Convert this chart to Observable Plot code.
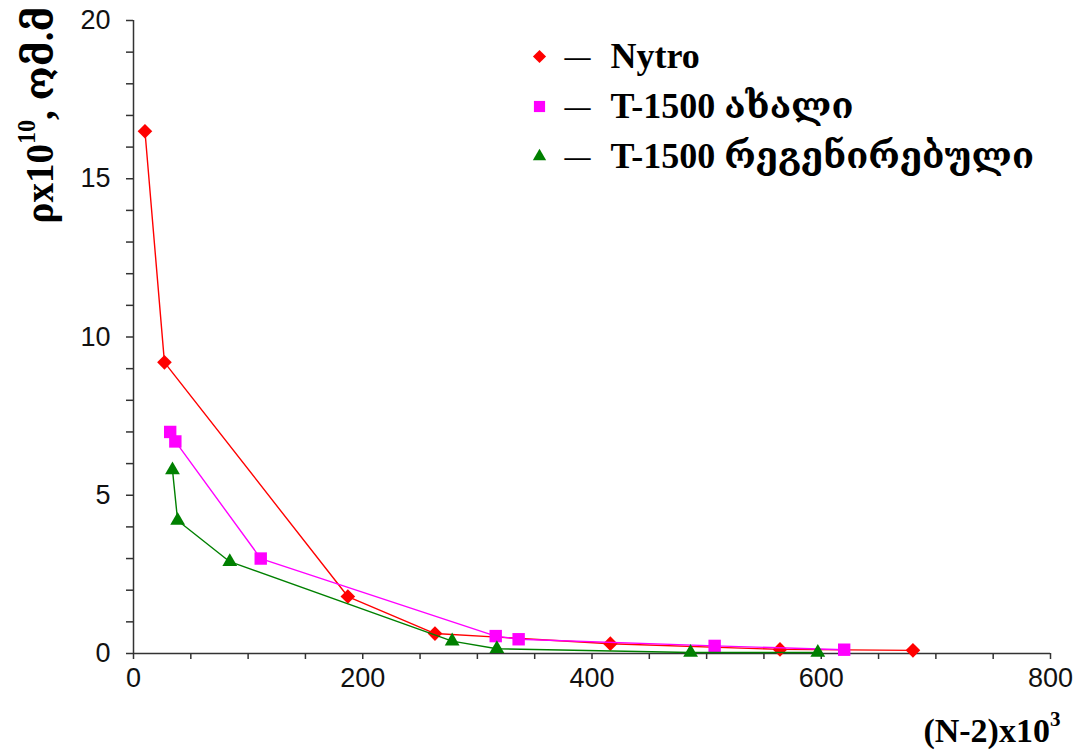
<!DOCTYPE html>
<html><head><meta charset="utf-8">
<script src="https://cdn.jsdelivr.net/npm/d3@7"></script>
<script src="https://cdn.jsdelivr.net/npm/@observablehq/plot@0.6"></script>
<style>body{margin:0;background:#fff} #chart{width:1087px;height:751px}</style>
</head><body><div id="chart"></div>
<script>
const seriesNames = ["Nytro", "T-1500 ახალი", "T-1500 რეგენირებული"];
const nytroX = [10, 27, 187, 263, 416, 564, 680];
const nytroY = [16.5, 9.2, 1.8, 0.63, 0.31, 0.13, 0.1];
const newX = [32, 36.5, 111, 316, 336, 507, 620];
const newY = [7.0, 6.7, 3.0, 0.55, 0.45, 0.24, 0.12];
const regX = [34, 38.5, 84, 278, 317, 486, 597];
const regY = [5.8, 4.2, 2.9, 0.39, 0.15, 0.03, 0.03];
const xTicks = d3.range(0, 801, 50);
const xTickLabels = [0, 200, 400, 600, 800];
const yTicks = d3.range(0, 21, 1);
const yTickLabels = [0, 5, 10, 15, 20];
const xLabelParts = ["(N-2)x10", "3", ""];
const yLabelParts = ["ρx10", "10", ", ომ.მ"];

const colors = ["#ff0000", "#ff00ff", "#008000"];
const symbols = ["diamond2", "square", "triangle"];
const radii = [6.6, 7, 5.5];
const xs = [nytroX, newX, regX];
const ys = [nytroY, newY, regY];

const data = [];
seriesNames.forEach((s, i) => xs[i].forEach((x, j) => data.push({series: s, x, y: ys[i][j]})));

const serif = "'Liberation Serif', 'DejaVu Serif', serif";
const marks = [
  Plot.axisX({ticks: xTicks, tickSize: 6, tickPadding: 8, tickFormat: d => xTickLabels.includes(d) ? d : "", label: null, stroke: "#333", strokeWidth: 1.5}),
  Plot.axisY({ticks: yTicks, tickSize: 7, tickPadding: 16, tickFormat: d => yTickLabels.includes(d) ? d : "", label: null, stroke: "#333", strokeWidth: 1.5}),
  Plot.ruleY([0], {stroke: "#333", strokeWidth: 1.5}),
  Plot.ruleX([0], {stroke: "#333", strokeWidth: 1.5})
];
seriesNames.forEach((s, i) => {
  const d = data.filter(r => r.series === s);
  marks.push(Plot.line(d, {x: "x", y: "y", stroke: colors[i], strokeWidth: 1.4}));
  marks.push(Plot.dot(d, {x: "x", y: "y", fill: colors[i], symbol: () => symbols[i], r: radii[i], stroke: "none"}));
  // legend row
  const dy = 36 + i * 50;
  marks.push(Plot.dot([s], {frameAnchor: "top-left", dx: 406, dy, fill: colors[i], symbol: () => symbols[i], r: radii[i] * 0.9}));
  marks.push(Plot.text([s], {frameAnchor: "top-left", dx: 444, dy, text: () => "—", textAnchor: "middle", lineAnchor: "middle", fontSize: 26, fontWeight: "bold", fontFamily: serif, fill: "#000"}));
  marks.push(Plot.text([s], {frameAnchor: "top-left", dx: 477, dy, text: d => d, textAnchor: "start", lineAnchor: "middle", fontSize: 36, fontWeight: "bold", fontFamily: serif, fill: "#000"}));
});
marks.push(Plot.text([xLabelParts.join("")], {frameAnchor: "bottom-right", dx: 10, dy: 88, text: d => d, textAnchor: "end", lineAnchor: "bottom", fontSize: 34, fontWeight: "bold", fontFamily: serif, fill: "#000", className: "xlab"}));
marks.push(Plot.text([yLabelParts.join("")], {frameAnchor: "top-left", dx: -93, dy: -14, text: d => d, textAnchor: "end", lineAnchor: "middle", rotate: -90, fontSize: 39, fontWeight: "bold", fontFamily: serif, fill: "#000", className: "ylab"}));

const chart = Plot.plot({
  width: 1087, height: 751,
  marginLeft: 133, marginRight: 37, marginTop: 20, marginBottom: 98,
  x: {domain: [0, 800]},
  y: {domain: [0, 20]},
  style: {fontFamily: "'Liberation Sans', Arial, sans-serif", fontSize: "27px", color: "#111", background: "#fff", overflow: "visible"},
  marks
});
document.getElementById("chart").appendChild(chart);

// turn the label parts into real superscripts
function supify(sel, parts) {
  d3.select(chart).selectAll(sel + " text").each(function() {
    const t = d3.select(this);
    t.text(null);
    t.append("tspan").text(parts[0]);
    t.append("tspan").attr("font-size", "0.62em").attr("dy", "-0.75em").text(parts[1]);
    if (parts[2]) t.append("tspan").attr("dy", "0.465em").text(parts[2]);
  });
}
supify(".xlab", xLabelParts);
supify(".ylab", yLabelParts);
</script>
</body></html>
